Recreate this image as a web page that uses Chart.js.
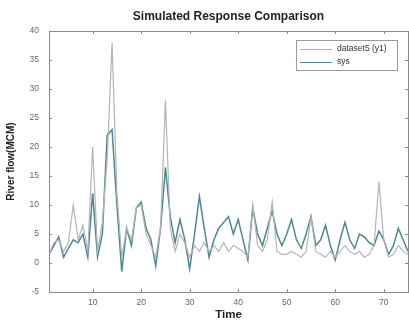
<!DOCTYPE html>
<html>
<head>
<meta charset="utf-8">
<script src="https://cdn.jsdelivr.net/npm/chart.js@4.4.1/dist/chart.umd.min.js"></script>
<style>
html,body{margin:0;padding:0;background:#fff;}
#wrap{width:409px;height:322px;}
</style>
</head>
<body>
<div id="wrap"><canvas id="c" width="409" height="322"></canvas></div>
<script>
const time = [];
for (let t = 1; t <= 75; t++) time.push(t);

const dataset5 = [1.5,3.5,4,2,3.5,10,4,6.5,2,20,2,7,18,38,12,1,6,4,9.5,10,5,3,1,6,28,6,2,5,3.5,1,3,2,3.5,2,3,2,3.5,2,3,2.5,2,1,10,3,2,4,10.5,2,1.5,1.5,2,1.5,1,2,8,2,1.5,1,2,1,2,3,2,1.5,2,1,1.5,3,14,4,1,1.5,3,2,1.5];

const sys = [1.5,3,4.5,1,2.5,4,3.5,5,1,12,1,5,22,23,10,-1.5,6,3,9.5,10.5,6,4,-0.5,6,16.5,8,3.5,7.5,4,-1,5,11.5,6,1,4,6,7,8,5,7.5,4,0.5,9.5,5,3,6,9,5,3,5,7.5,4,2.5,5,8,3,4,6.5,3,0.5,4,7,4,2.5,5,4.5,3.5,3,5.5,4,1.5,3,6,4,2];

const xTicks = [10,20,30,40,50,60,70];
const yTicks = [-5,0,5,10,15,20,25,30,35,40];

const seriesNames = ['dataset5 (y1)', 'sys'];
const seriesColors = ['#b5b5b5', '#4a8994'];

const axisColor = '#8a8a8a';
const font = "'Liberation Sans', Arial, sans-serif";

const boxPlugin = {
  id: 'boxPlugin',
  afterDatasetsDraw(chart) {
    const ctx = chart.ctx, a = chart.chartArea;
    const xs = chart.scales.x, ys = chart.scales.y;
    ctx.save();
    ctx.strokeStyle = axisColor;
    ctx.lineWidth = 1;
    ctx.strokeRect(Math.round(a.left)+0.5, Math.round(a.top)+0.5, Math.round(a.right-a.left), Math.round(a.bottom-a.top));
    ctx.beginPath();
    xTicks.forEach(v => {
      const px = Math.round(xs.getPixelForValue(v)) + 0.5;
      ctx.moveTo(px, a.bottom); ctx.lineTo(px, a.bottom - 3);
      ctx.moveTo(px, a.top); ctx.lineTo(px, a.top + 3);
    });
    yTicks.forEach(v => {
      const py = Math.round(ys.getPixelForValue(v)) + 0.5;
      ctx.moveTo(a.left, py); ctx.lineTo(a.left + 3, py);
      ctx.moveTo(a.right, py); ctx.lineTo(a.right - 3, py);
    });
    ctx.stroke();

    // legend
    const lx = 296, ly = 40, lw = 101, lh = 30;
    ctx.fillStyle = '#fff';
    ctx.fillRect(lx, ly, lw, lh);
    ctx.strokeStyle = '#9a9a9a';
    ctx.strokeRect(lx + 0.5, ly + 0.5, lw, lh);
    ctx.font = "8.5px " + font;
    ctx.textBaseline = 'middle';
    chart.data.datasets.forEach((ds, i) => {
      const yy = ly + 9 + i * 13;
      ctx.strokeStyle = ds.borderColor;
      ctx.lineWidth = 1;
      ctx.beginPath();
      ctx.moveTo(lx + 4, yy + 0.5); ctx.lineTo(lx + 36, yy + 0.5);
      ctx.stroke();
      ctx.fillStyle = '#333';
      ctx.fillText(ds.label, lx + 41, yy);
    });
    ctx.restore();
  }
};

new Chart(document.getElementById('c'), {
  type: 'line',
  data: {
    datasets: [
      { label: seriesNames[0], data: time.map((t, i) => ({x: t, y: dataset5[i]})), borderColor: seriesColors[0], borderWidth: 1.2, pointRadius: 0, tension: 0, fill: false },
      { label: seriesNames[1], data: time.map((t, i) => ({x: t, y: sys[i]})), borderColor: seriesColors[1], borderWidth: 1.5, pointRadius: 0, tension: 0, fill: false }
    ]
  },
  options: {
    responsive: false,
    animation: false,
    layout: { padding: { left: 5, right: 1, top: 0, bottom: 0 } },
    plugins: {
      legend: { display: false },
      tooltip: { enabled: false },
      title: {
        display: true,
        fullSize: false,
        text: 'Simulated Response Comparison',
        color: '#222',
        font: { family: font, size: 12, weight: 'bold' },
        padding: { top: 9, bottom: 7.6 }
      }
    },
    scales: {
      x: {
        type: 'linear',
        min: 1, max: 75,
        grid: { display: false, drawTicks: false },
        border: { display: false },
        afterBuildTicks: s => { s.ticks = xTicks.map(v => ({value: v})); },
        afterFit: s => { s.height = 30; },
        ticks: { color: '#666', font: { family: font, size: 8.5 }, padding: 6, maxRotation: 0 },
        title: { display: true, text: 'Time', color: '#222', font: { family: font, size: 11.5, weight: 'bold' }, padding: { top: 0, bottom: 0 } }
      },
      y: {
        min: -5, max: 40,
        grid: { display: false, drawTicks: false },
        border: { display: false },
        afterBuildTicks: s => { s.ticks = yTicks.map(v => ({value: v})); },
        afterFit: s => { s.width = 44; },
        ticks: { color: '#666', font: { family: font, size: 8.5 }, padding: 10 },
        title: { display: true, text: 'River flow(MCM)', color: '#222', font: { family: font, size: 10, weight: 'bold' }, padding: { top: 0, bottom: 0 } }
      }
    }
  },
  plugins: [boxPlugin]
});
</script>
</body>
</html>
